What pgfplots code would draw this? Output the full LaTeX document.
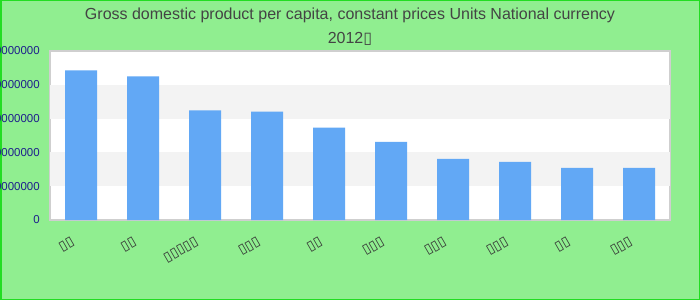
\documentclass[border=0pt]{standalone}
\usepackage{pgfplots}
\pgfplotsset{compat=1.18}
\usepackage{fontspec}
\setmainfont{Liberation Sans}
\newfontfamily\boxfont{DejaVu Sans}
\definecolor{bg}{HTML}{90EE90}
\definecolor{frame}{HTML}{22DD22}
\definecolor{band}{HTML}{F3F3F3}
\definecolor{plotborder}{HTML}{CFCFCF}
\definecolor{barblue}{RGB}{98,168,245}
\definecolor{tickblue}{RGB}{30,30,140}
\definecolor{titlegray}{HTML}{444444}
\newcommand{\bx}{\boxfont ▯}
\begin{document}
\begin{tikzpicture}
\useasboundingbox (0,0) rectangle (700pt,300pt);
\fill[bg] (0,0) rectangle (700pt,300pt);
\draw[frame,line width=1.5pt] (0.75pt,0.75pt) rectangle (699.25pt,299.25pt);
\node[anchor=base,text=titlegray,font=\fontsize{16}{19}\selectfont] at (350pt,280pt) {Gross domestic product per capita, constant prices Units National currency};
\node[anchor=base,text=titlegray,font=\fontsize{16}{19}\selectfont] at (350pt,256pt) {2012{\bx}};
\begin{axis}[
  at={(50pt,80pt)}, anchor=south west,
  scale only axis, width=620pt, height=169pt,
  xmin=-0.5, xmax=9.5, ymin=0, ymax=5e7,
  ybar, bar width=32pt,
  axis background/.style={fill=white},
  axis line style={draw=plotborder, line width=1.5pt},
  major tick length=0pt,
  ytick={0,1e7,2e7,3e7,4e7,5e7},
  scaled y ticks=false,
  /pgf/number format/assume math mode=true,
  yticklabel style={/pgf/number format/fixed, /pgf/number format/1000 sep={}, font=\fontsize{11.5}{13}\selectfont, text=tickblue, inner sep=0pt, xshift=-10pt},
  xtick={0,1,2,3,4,5,6,7,8,9},
  xticklabels={{\bx\bx},{\bx\bx},{\bx\bx\bx\bx\bx},{\bx\bx\bx},{\bx\bx},{\bx\bx\bx},{\bx\bx\bx},{\bx\bx\bx},{\bx\bx},{\bx\bx\bx}},
  xticklabel style={rotate=30, anchor=north east, inner sep=0pt, font=\fontsize{13.5}{15}\selectfont, text=black!80, xshift=-17pt, yshift=-8.5pt},
]
\fill[band] (axis cs:-0.5,1e7) rectangle (axis cs:9.5,2e7);
\fill[band] (axis cs:-0.5,3e7) rectangle (axis cs:9.5,4e7);
\addplot[fill=barblue, draw=none, bar shift=0pt] coordinates {
(0,44300000) (1,42500000) (2,32400000) (3,32100000) (4,27300000)
(5,23100000) (6,18100000) (7,17200000) (8,15400000) (9,15400000)};
\end{axis}
\end{tikzpicture}
\end{document}
